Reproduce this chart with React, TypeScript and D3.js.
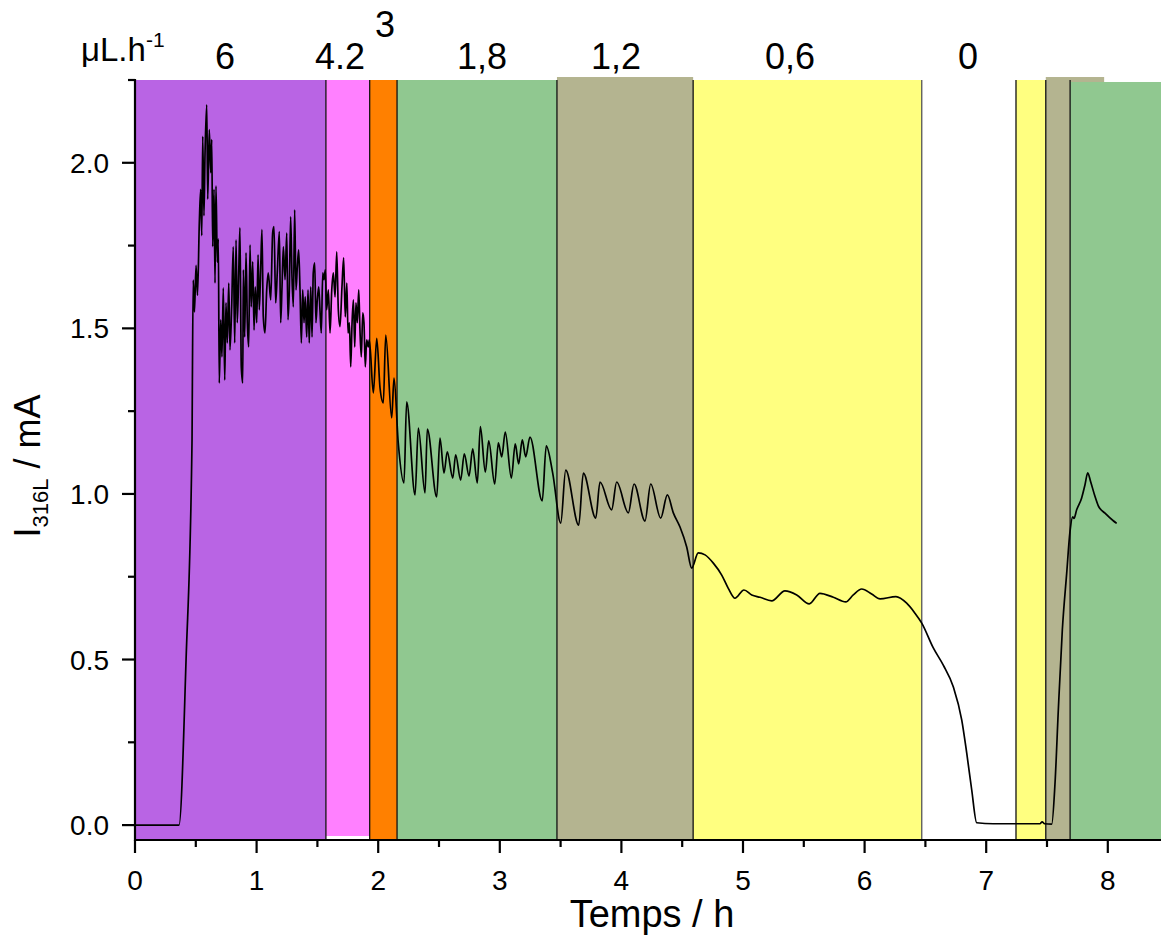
import React from "react";
import * as d3 from "d3";

// ---- data (time in h, current in mA) ----
const timeH = [
  0, 0.362, 0.42, 0.469, 0.471, 0.479, 0.489, 0.502, 0.514, 0.529, 0.54, 0.549, 0.557, 0.567, 0.576, 0.59, 0.598, 0.611,
  0.623, 0.631, 0.639, 0.65, 0.658, 0.666, 0.677, 0.685, 0.693, 0.705, 0.715, 0.726, 0.738, 0.748, 0.759, 0.771, 0.781,
  0.795, 0.808, 0.82, 0.831, 0.841, 0.853, 0.863, 0.874, 0.886, 0.891, 0.902, 0.913, 0.924, 0.935, 0.946, 0.956, 0.968,
  0.979, 0.989, 1.001, 1.012, 1.022, 1.034, 1.044, 1.055, 1.069, 1.083, 1.096, 1.116, 1.132, 1.143, 1.157, 1.17, 1.187,
  1.198, 1.209, 1.22, 1.234, 1.248, 1.258, 1.269, 1.28, 1.291, 1.302, 1.313, 1.324, 1.335, 1.346, 1.357, 1.368, 1.379,
  1.39, 1.4, 1.412, 1.423, 1.433, 1.445, 1.456, 1.466, 1.478, 1.488, 1.499, 1.511, 1.521, 1.532, 1.544, 1.554, 1.565,
  1.576, 1.59, 1.604, 1.618, 1.631, 1.645, 1.659, 1.672, 1.686, 1.702, 1.716, 1.729, 1.742, 1.752, 1.763, 1.774, 1.785,
  1.796, 1.807, 1.817, 1.828, 1.84, 1.85, 1.861, 1.873, 1.883, 1.894, 1.905, 1.918, 1.927, 1.96, 1.988, 2.015, 2.042,
  2.062, 2.111, 2.13, 2.165, 2.212, 2.234, 2.303, 2.33, 2.385, 2.404, 2.481, 2.508, 2.541, 2.568, 2.613, 2.637, 2.678,
  2.708, 2.747, 2.777, 2.815, 2.84, 2.881, 2.909, 2.958, 2.988, 3.016, 3.045, 3.095, 3.127, 3.155, 3.185, 3.213, 3.248,
  3.349, 3.382, 3.435, 3.501, 3.542, 3.649, 3.687, 3.789, 3.824, 3.92, 3.961, 4.057, 4.104, 4.194, 4.241, 4.323, 4.378,
  4.427, 4.482, 4.537, 4.578, 4.632, 4.688, 4.756, 4.825, 4.879, 4.934, 5.008, 5.072, 5.14, 5.236, 5.345, 5.442, 5.545,
  5.633, 5.743, 5.845, 5.907, 5.976, 6.058, 6.127, 6.258, 6.346, 6.414, 6.47, 6.565, 6.647, 6.73, 6.799, 6.84, 6.881,
  6.922, 7.058, 7.442, 7.46, 7.48, 7.539, 7.566, 7.593, 7.626, 7.662, 7.689, 7.711, 7.722, 7.744, 7.785, 7.812, 7.835,
  7.859, 7.895, 7.922, 7.977, 8.045, 8.073,
];
const currentMA = [
  0, 0, 0.5, 1.163, 1.284, 1.646, 1.55, 1.69, 1.6, 1.82, 1.92, 1.78, 2.08, 1.84, 2.03, 2.175, 1.89, 2.1,
  1.97, 2.07, 1.747, 1.92, 1.637, 1.93, 1.7, 1.77, 1.335, 1.526, 1.414, 1.622, 1.344, 1.577, 1.456, 1.637, 1.435,
  1.565, 1.746, 1.456, 1.767, 1.517, 1.668, 1.804, 1.384, 1.335, 1.677, 1.474, 1.728, 1.517, 1.444, 1.752, 1.565, 1.701,
  1.495, 1.625, 1.517, 1.722, 1.556, 1.686, 1.798, 1.535, 1.486, 1.616, 1.668, 1.586, 1.788, 1.807, 1.577, 1.668, 1.792,
  1.517, 1.625, 1.746, 1.647, 1.788, 1.526, 1.616, 1.837, 1.656, 1.565, 1.858, 1.616, 1.686, 1.737, 1.616, 1.456, 1.616,
  1.517, 1.595, 1.474, 1.616, 1.456, 1.625, 1.474, 1.668, 1.698, 1.517, 1.586, 1.625, 1.556, 1.486, 1.668, 1.647, 1.677,
  1.556, 1.616, 1.486, 1.616, 1.668, 1.595, 1.731, 1.556, 1.505, 1.625, 1.713, 1.535, 1.637, 1.486, 1.517, 1.384, 1.517,
  1.586, 1.444, 1.577, 1.517, 1.616, 1.495, 1.414, 1.547, 1.517, 1.384, 1.465, 1.444, 1.465, 1.305, 1.47, 1.32, 1.275,
  1.48, 1.23, 1.35, 1.154, 1.033, 1.278, 0.997, 1.199, 1.003, 1.196, 0.991, 1.169, 1.063, 1.127, 1.048, 1.118, 1.042,
  1.121, 1.054, 1.136, 1.033, 1.203, 1.066, 1.16, 1.03, 1.154, 1.112, 1.187, 1.048, 1.151, 1.091, 1.163, 1.112, 1.172,
  0.979, 1.145, 1.063, 0.912, 1.072, 0.906, 1.063, 0.927, 1.036, 0.952, 1.036, 0.943, 1.03, 0.918, 1.03, 0.927, 0.997,
  0.943, 0.9, 0.84, 0.776, 0.822, 0.816, 0.791, 0.755, 0.715, 0.685, 0.71, 0.695, 0.688, 0.677, 0.707, 0.695, 0.668,
  0.7, 0.688, 0.674, 0.695, 0.713, 0.698, 0.683, 0.69, 0.67, 0.64, 0.61, 0.535, 0.483, 0.417, 0.317, 0.217, 0.106,
  0.007, 0.004, 0.004, 0.01, 0.004, 0.003, 0.127, 0.347, 0.589, 0.761, 0.886, 0.931, 0.926, 0.952, 0.988, 1.027, 1.064,
  1.037, 0.992, 0.964, 0.942, 0.919, 0.911,
];

// flow-rate regions (h)
const regionStart = [0, 1.57, 1.93, 2.155, 3.47, 4.59, 7.245, 7.49, 7.69];
const regionEnd = [1.57, 1.93, 2.155, 3.47, 4.59, 6.47, 7.49, 7.97, 8.6];
const regionTop = [2.25, 2.25, 2.25, 2.25, 2.259, 2.25, 2.25, 2.259, 2.244];
const regionBottom = [-0.045, -0.033, -0.045, -0.045, -0.045, -0.045, -0.045, -0.045, -0.045];
const regionColor = ["#B964E4", "#FF80FF", "#FF8000", "#90C890", "#B4B490", "#FFFF80", "#FFFF80", "#B4B490", "#90C890"];
const boundaries = [1.57, 1.93, 2.155, 3.47, 4.59, 6.47, 7.245, 7.49, 7.69];

// flow-rate labels (µL/h)
const rateLabels = ["6", "4.2", "3", "1,8", "1,2", "0,6", "0"];
const rateAt = [0.74, 1.686, 2.056, 2.854, 3.956, 5.387, 6.85];
const rateRaised = [false, false, true, false, false, false, false];

const xMajor = [0, 1, 2, 3, 4, 5, 6, 7, 8];
const xMinor = [0.5, 1.5, 2.5, 3.5, 4.5, 5.5, 6.5, 7.5];
const yMajor = [0, 0.5, 1.0, 1.5, 2.0];
const yMinor = [0.25, 0.75, 1.25, 1.75, 2.25];

const W = 1161;
const H = 935;
const FONT = "'Liberation Sans', Arial, sans-serif";

export default function App() {
  const x = d3.scaleLinear().domain([0, 8.5]).range([135, 135 + 8.5 * 121.6]);
  const y = d3.scaleLinear().domain([-0.045, 2.25]).range([840, 80]);
  const pts = timeH.map((t, i) => [t, currentMA[i]] as [number, number]);
  const line = d3
    .line<[number, number]>()
    .x((d) => x(d[0]))
    .y((d) => y(d[1]))
    .curve(d3.curveMonotoneX);
  const fmtY = d3.format(".1f");

  return (
    <svg width={W} height={H} style={{ position: "absolute", left: 0, top: 0, background: "#fff" }} fontFamily={FONT}>
      {regionStart.map((s, i) => (
        <rect
          key={"r" + i}
          x={x(s)}
          y={y(regionTop[i])}
          width={x(regionEnd[i]) - x(s)}
          height={y(regionBottom[i]) - y(regionTop[i])}
          fill={regionColor[i]}
        />
      ))}
      {boundaries.map((b, i) => (
        <line
          key={"b" + i}
          x1={x(b)}
          x2={x(b)}
          y1={y(2.25)}
          y2={y(-0.045)}
          stroke={i === 5 ? "#555" : "#111"}
          strokeWidth={1.3}
        />
      ))}
      <path d={line(pts) || ""} fill="none" stroke="#000" strokeWidth={1.7} strokeLinejoin="round" />

      {/* axes */}
      <line x1={135} x2={W} y1={840} y2={840} stroke="#000" strokeWidth={2.2} />
      <line x1={135} x2={135} y1={79} y2={841} stroke="#000" strokeWidth={2.2} />
      {xMajor.map((v) => (
        <g key={"xm" + v}>
          <line x1={x(v)} x2={x(v)} y1={840} y2={853} stroke="#000" strokeWidth={2.2} />
          <text x={x(v)} y={890} fontSize={28} textAnchor="middle">
            {v}
          </text>
        </g>
      ))}
      {xMinor.map((v) => (
        <line key={"xn" + v} x1={x(v)} x2={x(v)} y1={840} y2={847} stroke="#000" strokeWidth={2.2} />
      ))}
      {yMajor.map((v) => (
        <g key={"ym" + v}>
          <line x1={122} x2={135} y1={y(v)} y2={y(v)} stroke="#000" strokeWidth={2.2} />
          <text x={109} y={y(v) + 10} fontSize={28} textAnchor="end">
            {fmtY(v)}
          </text>
        </g>
      ))}
      {yMinor.map((v) => (
        <line key={"yn" + v} x1={128} x2={135} y1={y(v)} y2={y(v)} stroke="#000" strokeWidth={2.2} />
      ))}

      {/* axis titles */}
      <text x={652} y={927} fontSize={38} textAnchor="middle">
        Temps / h
      </text>
      <text transform={`translate(40,466) rotate(-90)`} fontSize={36} textAnchor="middle">
        I
        <tspan fontSize={22} dy={8}>
          316L
        </tspan>
        <tspan dy={-8}> / mA</tspan>
      </text>

      {/* flow-rate labels */}
      <text x={81} y={61} fontSize={33}>
        μL.h
        <tspan fontSize={21} dy={-14}>
          -1
        </tspan>
      </text>
      {rateLabels.map((l, i) => (
        <text key={"l" + i} x={x(rateAt[i])} y={rateRaised[i] ? 37 : 69} fontSize={36} textAnchor="middle">
          {l}
        </text>
      ))}
    </svg>
  );
}
